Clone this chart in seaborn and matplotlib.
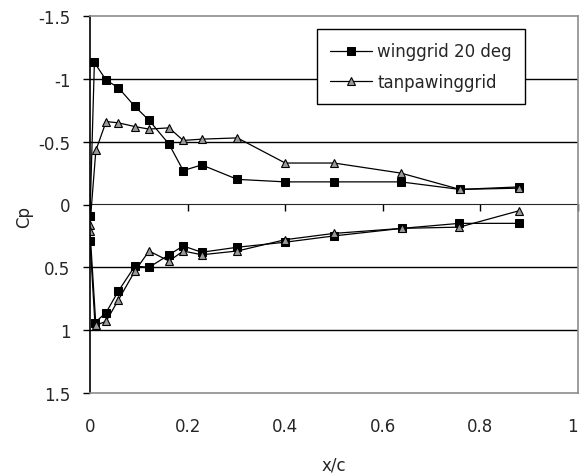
import matplotlib
matplotlib.use("Agg")
import matplotlib.pyplot as plt
import seaborn as sns
import pandas as pd

# winggrid 20 deg (upper surface TE->LE, leading edge, lower surface LE->TE)
wg_x = [0.879, 0.758, 0.637, 0.50, 0.40, 0.302, 0.229, 0.191, 0.162, 0.121, 0.092, 0.058, 0.033, 0.009,
        0.0, 0.0,
        0.010, 0.033, 0.058, 0.092, 0.121, 0.162, 0.191, 0.229, 0.302, 0.40, 0.50, 0.639, 0.757, 0.879]
wg_cp = [-0.14, -0.12, -0.18, -0.18, -0.18, -0.20, -0.315, -0.27, -0.48, -0.67, -0.78, -0.93, -0.99, -1.13,
         0.09, 0.29,
         0.94, 0.86, 0.69, 0.49, 0.50, 0.40, 0.33, 0.38, 0.34, 0.30, 0.25, 0.19, 0.15, 0.15]

# tanpawinggrid
tw_x = [0.879, 0.758, 0.637, 0.50, 0.40, 0.302, 0.229, 0.191, 0.162, 0.121, 0.092, 0.058, 0.033, 0.012,
        0.0, 0.0,
        0.012, 0.033, 0.058, 0.092, 0.121, 0.162, 0.191, 0.229, 0.302, 0.40, 0.50, 0.639, 0.757, 0.879]
tw_cp = [-0.13, -0.12, -0.25, -0.33, -0.33, -0.53, -0.52, -0.51, -0.61, -0.60, -0.62, -0.65, -0.66, -0.43,
         0.16, 0.21,
         0.96, 0.93, 0.76, 0.53, 0.37, 0.45, 0.37, 0.40, 0.37, 0.28, 0.23, 0.19, 0.18, 0.05]

series_names = ["winggrid 20 deg", "tanpawinggrid"]
x_ticks = [0, 0.2, 0.4, 0.6, 0.8, 1]
x_tick_labels = ["0", "0.2", "0.4", "0.6", "0.8", "1"]
y_ticks = [-1.5, -1, -0.5, 0, 0.5, 1, 1.5]
y_tick_labels = ["-1.5", "-1", "-0.5", "0", "0.5", "1", "1.5"]

df_wg = pd.DataFrame({"x/c": wg_x, "Cp": wg_cp})
df_tw = pd.DataFrame({"x/c": tw_x, "Cp": tw_cp})

sns.set_style("white")
plt.rcParams["font.family"] = ["DejaVu Sans"]
FS = 12

fig = plt.figure(figsize=(5.81, 4.77), dpi=100)
ax = fig.add_axes([90 / 581, 1 - 394 / 477, 488 / 581, 377 / 477])

sns.lineplot(data=df_wg, x="x/c", y="Cp", sort=False, estimator=None, ax=ax,
             color="black", linewidth=0.9, marker="s", markersize=6,
             markerfacecolor="black", markeredgecolor="black", label=series_names[0])
sns.lineplot(data=df_tw, x="x/c", y="Cp", sort=False, estimator=None, ax=ax,
             color="black", linewidth=0.9, marker="^", markersize=6,
             markerfacecolor="#9a9a9a", markeredgecolor="black", markeredgewidth=0.8,
             label=series_names[1])

ax.set_xlim(0, 1)
ax.set_ylim(1.5, -1.5)

# gridlines
for yv in [-1, -0.5, 0.5, 1]:
    ax.axhline(yv, color="black", linewidth=1.0, zorder=0)

# spines
for s in ["top", "right", "bottom"]:
    ax.spines[s].set_color("#8c8c8c")
    ax.spines[s].set_linewidth(1.2)
ax.spines["left"].set_color("black")
ax.spines["left"].set_linewidth(1.2)

ax.set_yticks(y_ticks)
ax.set_yticklabels(y_tick_labels)
ax.tick_params(axis="y", direction="out", length=5, width=1.0, color="black",
               left=True, labelsize=FS, pad=9)

ax.set_xticks(x_ticks)
ax.set_xticklabels(x_tick_labels)
ax.tick_params(axis="x", bottom=False, length=0, labelsize=FS, pad=17)
ax.get_xticklabels()[-1].set_horizontalalignment("right")

# x axis line crossing at Cp = 0 with tick marks
sec = ax.secondary_xaxis(0.5)
sec.set_xticks(x_ticks)
sec.tick_params(axis="x", direction="in", length=5, width=1.0, color="black", labelbottom=False)
sec.set_xticklabels([])
sec.spines["bottom"].set_color("black")
sec.spines["bottom"].set_linewidth(1.3)

ax.set_xlabel("x/c", fontsize=FS)
ax.set_ylabel("Cp", fontsize=FS)
ax.xaxis.set_label_coords(0.5, (394 - 457) / 377)
ax.yaxis.set_label_coords((33 - 90) / 488, (394 - 217) / 377)

leg = ax.legend(loc="upper left", bbox_to_anchor=((317 - 90) / 488, (394 - 30) / 377),
                frameon=True, fancybox=False, framealpha=1, edgecolor="black",
                fontsize=FS, handlelength=2.5, handletextpad=0.3, borderpad=0.8,
                labelspacing=0.75, borderaxespad=0)
leg.get_frame().set_linewidth(1.0)

fig.savefig("out.png", dpi=100)
